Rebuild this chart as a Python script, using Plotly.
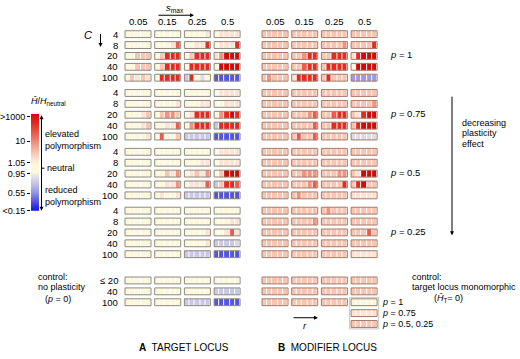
import plotly.graph_objects as go

# ---------------- data (colour codes) ----------------
# codes: 0 neutral, 1..6 increasingly elevated, a..d increasingly reduced
S_MAX = ["0.05", "0.15", "0.25", "0.5"]
C_LABELS = ["4", "8", "20", "40", "100"]
CONTROL_LABELS = ["≤ 20", "40", "100"]
P_LABELS = ["<i>p</i> = 1", "<i>p</i> = 0.75", "<i>p</i> = 0.5", "<i>p</i> = 0.25"]
CB_TICKS = [">1000", "10", "1.05", "0.95", "0.55", "<0.15"]
CB_TICK_LEVELS = [5.7, 3.17, 0.95, -0.16, -2.18, -3.95]

TARGET_P1 = ["00000 00000 00001 01111",
             "00000 00014 00115 01115",
             "00222 02555 02555 13666",
             "00222 02555 05555 06666",
             "02121 05555 b50a0 ddddd"]
TARGET_P075 = ["00000 00000 00000 01111",
               "00000 00001 00011 00111",
               "00012 02332 01555 03565",
               "00012 00114 03555 b5555",
               "00001 04002 bbbbb ddddd"]
TARGET_P05 = ["00000 00000 00000 01111",
              "00000 00000 00011 01111",
              "00000 00213 01213 02666",
              "00000 00113 01114 b2554",
              "00000 01001 bbbbb ddddd"]
TARGET_P025 = ["00000 00000 00000 00000",
               "00000 00000 00000 00011",
               "00000 00000 00001 00141",
               "00000 00000 00001 bbbba",
               "00000 00000 bbbbb ddddd"]
TARGET_CONTROL = ["00000 00000 00000 00000",
                  "00000 00000 00000 bbbbb",
                  "00000 00000 bbbbb ddddd"]

MODIFIER_P1 = ["22222 22222 22222 22222",
               "22222 22222 22223 22225",
               "22222 22355 22555 15666",
               "22222 22455 25555 06666",
               "23222 15555 25222 ccccc"]
MODIFIER_P075 = ["22222 22222 22222 22222",
                 "22222 22222 22222 22223",
                 "22222 22234 22455 21566",
                 "22222 22224 22555 25666",
                 "22222 24224 22222 aaaaa"]
MODIFIER_P05 = ["22222 22222 22222 22222",
                "22222 22222 22222 22222",
                "22222 22333 22233 21666",
                "22222 22234 22225 25622",
                "22222 23222 22222 11111"]
MODIFIER_P025 = ["22222 22222 23222 22222",
                 "22222 22223 22222 22222",
                 "22222 22222 22222 22242",
                 "22222 22222 22222 22222",
                 "22222 22222 22222 11111"]
MODIFIER_CONTROL = ["22222 22222 22222 22222",
                    "22222 22222 22222 22222",
                    "22222 22222 22222 00000"]
MODIFIER_CONTROL_EXTRA = ["11111", "22222"]      # p = 0.75 ; p = 0.5, 0.25
CONTROL_P_LABELS = ["<i>p</i> = 1", "<i>p</i> = 0.75", "<i>p</i> = 0.5, 0.25"]

CODE_Z = {"0": 0.45, "1": 1.3, "2": 2.0, "3": 3.0, "4": 4.0, "5": 5.0, "6": 6.0,
          "a": -0.6, "b": -1.0, "c": -2.0, "d": -3.0}
ZMIN, ZMAX = -4.0, 6.0
SCALE_STOPS = [(-4, "#0c0cf0"), (-3, "#5454e0"), (-2, "#9c9ce6"), (-1, "#c9c9e6"),
               (-0.3, "#ecebe6"), (0, "#fdf9dc"), (0.9, "#fdf6dc"), (1.3, "#fde3d3"),
               (2, "#f8c5b2"), (3, "#f2937f"), (4, "#ec5a4b"), (5, "#e52a20"),
               (6, "#cf0a0a")]

# ---------------- layout geometry (pixels) ----------------
W, H = 520, 359
BOX_W, BOX_H = 26, 7
COL_STEP = 29.7
A_LEFT, B_LEFT = 125, 262
GROUP_TOP0, GROUP_STEP, ROW_STEP = 29.3, 60, 11.1
CONTROL_TOP = 280.5
FONT = "Liberation Sans, Arial, sans-serif"
FS = 9
BORDER_A, BORDER_B = "#8e8a80", "#a27c6c"

colorscale = [[(z - ZMIN) / (ZMAX - ZMIN), c] for z, c in SCALE_STOPS]

fig = go.Figure()
annotations = []
shapes = []


def txt(x, y, text, anchor="left", size=FS, **kw):
    annotations.append(dict(x=x, y=y, xref="x", yref="y", text=text, showarrow=False,
                            xanchor=anchor, yanchor="middle",
                            font=dict(family=FONT, size=size, color="black"), **kw))


def arrow(x0, y0, x1, y1, side="end"):
    annotations.append(dict(x=x1, y=y1, ax=x0, ay=y0, xref="x", yref="y", axref="x", ayref="y",
                            text="", showarrow=True, arrowhead=2, arrowsize=0.8,
                            arrowwidth=1, arrowcolor="black", arrowside=side,
                            startarrowhead=2, startarrowsize=0.8))


def add_box(left, top, codes, border):
    z = [[CODE_Z[c] for c in codes]]
    fig.add_trace(go.Heatmap(z=z, x0=left + BOX_W / 10, dx=BOX_W / 5,
                             y0=top + BOX_H / 2, dy=BOX_H, coloraxis="coloraxis",
                             xgap=1, hoverinfo="skip"))
    shapes.append(dict(type="rect", xref="x", yref="y", x0=left, x1=left + BOX_W,
                       y0=top, y1=top + BOX_H, line=dict(color=border, width=1),
                       layer="above"))


def add_row(left, top, row, border):
    for j, codes in enumerate(row.split()):
        add_box(left + j * COL_STEP, top, codes, border)


target_groups = [TARGET_P1, TARGET_P075, TARGET_P05, TARGET_P025]
modifier_groups = [MODIFIER_P1, MODIFIER_P075, MODIFIER_P05, MODIFIER_P025]

for g, (tg, mg) in enumerate(zip(target_groups, modifier_groups)):
    gtop = GROUP_TOP0 + g * GROUP_STEP
    for i in range(len(C_LABELS)):
        top = gtop + i * ROW_STEP
        add_row(A_LEFT, top, tg[i], BORDER_A)
        add_row(B_LEFT, top, mg[i], BORDER_B)
        txt(119.5, top + BOX_H / 2, C_LABELS[i], anchor="right", size=9.5)
    txt(388, gtop + 2 * ROW_STEP + BOX_H / 2 - 1, P_LABELS[g], size=9.5)

for i in range(len(CONTROL_LABELS)):
    top = CONTROL_TOP + i * ROW_STEP
    add_row(A_LEFT, top, TARGET_CONTROL[i], BORDER_A)
    add_row(B_LEFT, top, MODIFIER_CONTROL[i], BORDER_B)
    txt(119.5, top + BOX_H / 2, CONTROL_LABELS[i], anchor="right", size=9.5)

# extra legend boxes for modifier control (last column)
last_left = B_LEFT + 3 * COL_STEP
for k, codes in enumerate(MODIFIER_CONTROL_EXTRA):
    top = CONTROL_TOP + (3 + k) * ROW_STEP
    add_box(last_left, top, codes, BORDER_B)
for k, lab in enumerate(CONTROL_P_LABELS):
    top = CONTROL_TOP + (2 + k) * ROW_STEP
    txt(380, top + BOX_H / 2, lab)
shapes.append(dict(type="rect", xref="x", yref="y", x0=last_left - 1.5, x1=last_left + BOX_W + 1.5,
                   y0=CONTROL_TOP + 2 * ROW_STEP - 1.5, y1=CONTROL_TOP + 4 * ROW_STEP + BOX_H + 1.5,
                   line=dict(color="#c8c8c8", width=1), layer="below"))

# column headers
for j, s in enumerate(S_MAX):
    txt(A_LEFT + j * COL_STEP + BOX_W / 2, 20, s, anchor="center", size=9.5)
    txt(B_LEFT + j * COL_STEP + BOX_W / 2, 20, s, anchor="center", size=9.5)

# s_max and C axis hints
txt(175, 6, "<i>s</i><sub>max</sub>", anchor="center", size=9.5)
arrow(157, 13.5, 194, 13.5)
txt(88, 34, "<i>C</i>", anchor="center", size=11)
arrow(100.5, 31, 100.5, 46)

# r hint
arrow(292, 322, 318, 322)
txt(305, 329.5, "<i>r</i>", anchor="center", size=9.5)

# colourbar (as a small heatmap on its own axes)
cb_levels = [ZMIN + (ZMAX - ZMIN) * k / 199 for k in range(200)]
fig.add_trace(go.Heatmap(z=[[v] for v in cb_levels], y=cb_levels, x=[0],
                         coloraxis="coloraxis", xaxis="x2", yaxis="y2", hoverinfo="skip"))
txt(29, 101, "<i>Ĥ</i>/<i>H</i><sub>neutral</sub>")
arrow(41.5, 114, 41.5, 213, side="end+start")
shapes.append(dict(type="line", xref="x", yref="y", x0=41.5, x1=44.5, y0=169.5, y1=169.5,
                   line=dict(color="black", width=1)))
txt(45, 169.5, "neutral")
txt(43, 135, "elevated")
txt(43, 147, "polymorphism")
txt(43, 192, "reduced")
txt(43, 204, "polymorphism")

# right side
arrow(452, 95, 452, 238)
txt(460, 123, "decreasing")
txt(460, 134, "plasticity")
txt(460, 145, "effect")

txt(410, 280, "control:")
txt(410, 291, "target locus monomorphic")
txt(448, 302.5, "(<i>Ĥ</i><sub>T</sub>= 0)", anchor="center")

txt(36, 280, "control:")
txt(36, 291, "no plasticity")
txt(58, 302.5, "(<i>p</i> = 0)", anchor="center")

# panel titles
txt(137, 352, "<b>A</b>  TARGET LOCUS", size=10)
txt(276, 352, "<b>B</b>  MODIFIER LOCUS", size=10)

fig.update_layout(
    width=W, height=H, margin=dict(l=0, r=0, t=0, b=0),
    paper_bgcolor="white", plot_bgcolor="white", showlegend=False,
    coloraxis=dict(colorscale=colorscale, cmin=ZMIN, cmax=ZMAX, showscale=False),
    xaxis=dict(range=[0, W], domain=[0, 1], visible=False, fixedrange=True),
    yaxis=dict(range=[H, 0], domain=[0, 1], visible=False, fixedrange=True),
    xaxis2=dict(domain=[31 / W, 39 / W], anchor="y2", visible=False, range=[-0.5, 0.5],
                fixedrange=True),
    yaxis2=dict(domain=[(H - 213) / H, (H - 114) / H], anchor="x2", range=[ZMIN, ZMAX],
                tickvals=CB_TICK_LEVELS, ticktext=CB_TICKS, ticks="outside", ticklen=3,
                tickcolor="black", showgrid=False, zeroline=False, showline=False,
                side="left", fixedrange=True,
                tickfont=dict(family=FONT, size=FS, color="black")),
    annotations=annotations, shapes=shapes,
)

fig.write_html("out.html", config={"displayModeBar": False},
               post_script="document.body.style.margin='0';document.body.style.overflow='hidden';")
